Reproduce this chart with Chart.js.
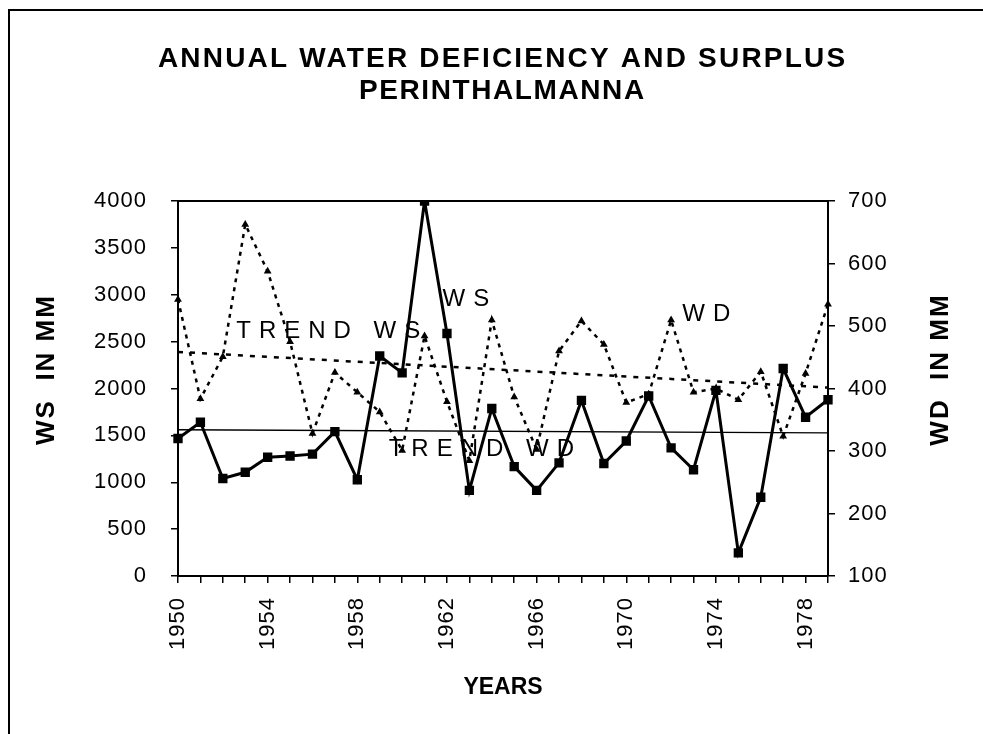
<!DOCTYPE html>
<html>
<head>
<meta charset="utf-8">
<title>Annual water deficiency and surplus - Perinthalmanna</title>
<script src="https://cdn.jsdelivr.net/npm/chart.js@4.4.1/dist/chart.umd.min.js"></script>
<style>
    html, body { margin: 0; padding: 0; background: #fff; }
    canvas { display: block; }
</style>
</head>
<body>
<canvas id="waterChart" width="983" height="734"></canvas>
<script>
// values
const years = [1950, 1951, 1952, 1953, 1954, 1955, 1956, 1957, 1958, 1959,
               1960, 1961, 1962, 1963, 1964, 1965, 1966, 1967, 1968, 1969,
               1970, 1971, 1972, 1973, 1974, 1975, 1976, 1977, 1978, 1979];
// water surplus, mm (left axis)
const wsValues = [2950, 1890, 2340, 3750, 3250, 2500, 1520, 2170, 1960, 1750,
                  1340, 2560, 1860, 1230, 2730, 1910, 1350, 2400, 2720, 2470,
                  1850, 1940, 2730, 1960, 2000, 1880, 2180, 1490, 2160, 2900];
// water deficiency, mm (right axis)
const wdValues = [320, 346, 256, 266, 290, 292, 295, 331, 254, 452,
                  425, 700, 488, 237, 368, 275, 237, 281, 381, 280,
                  316, 388, 305, 270, 397, 137, 226, 432, 354, 382];
// linear trend lines, first and last year
const trendWs = [2390, 2010];
const trendWd = [334, 329];
const labelledYears = [1950, 1954, 1958, 1962, 1966, 1970, 1974, 1978];
const titleLines = ['ANNUAL WATER DEFICIENCY AND SURPLUS', 'PERINTHALMANNA'];
const curveLabels = ['TREND WS', 'WS', 'TREND WD', 'WD'];

const FONT = '"Liberation Sans", Arial, sans-serif';
Chart.defaults.font.family = FONT;
Chart.defaults.color = '#000';

function endsOnly(ends) {
    return years.map((y, i) => i === 0 ? ends[0] : (i === years.length - 1 ? ends[1] : null));
}

function spacedText(ctx, text, x, y, font, spacing, align, angle) {
    ctx.save();
    ctx.font = font;
    ctx.letterSpacing = spacing + 'px';
    ctx.fillStyle = '#000';
    ctx.textBaseline = 'middle';
    ctx.translate(x, y);
    if (angle) ctx.rotate(angle);
    let w = ctx.measureText(text).width;
    let dx = 0;
    if (align === 'center') dx = -(w - spacing) / 2;
    ctx.textAlign = 'left';
    ctx.fillText(text, dx, 0);
    ctx.restore();
}

const sheetDecor = {
    id: 'sheetDecor',
    beforeUpdate(chart) { chart.ctx.letterSpacing = '1px'; },
    beforeDraw(chart) { chart.ctx.letterSpacing = '1px'; },
    afterDraw(chart) {
        const ctx = chart.ctx;
        const a = chart.chartArea;
        const x = chart.scales.x, y = chart.scales.y;

        // scanned page frame (left and top edge only)
        ctx.save();
        ctx.strokeStyle = '#000';
        ctx.lineWidth = 2;
        ctx.beginPath();
        ctx.moveTo(9, chart.height);
        ctx.lineTo(9, 10);
        ctx.lineTo(chart.width, 10);
        ctx.stroke();
        // top edge of plot area
        ctx.beginPath();
        ctx.moveTo(a.left, a.top);
        ctx.lineTo(a.right, a.top);
        ctx.stroke();
        ctx.restore();

        const cx = chart.width / 2 + 10;
        spacedText(ctx, titleLines[0], cx, 59, 'bold 28px ' + FONT, 2.2, 'center');
        spacedText(ctx, titleLines[1], cx, 91, 'bold 28px ' + FONT, 1.6, 'center');

        const midY = (a.top + a.bottom) / 2 - 18;
        spacedText(ctx, 'WS  IN MM', a.left - 131, midY, 'bold 26px ' + FONT, 2, 'center', -Math.PI / 2);
        spacedText(ctx, 'WD  IN MM', a.right + 113, midY, 'bold 26px ' + FONT, 2, 'center', -Math.PI / 2);
        spacedText(ctx, 'YEARS', (a.left + a.right) / 2, a.bottom + 112, 'bold 23px ' + FONT, 0, 'center');

        // labels sitting on the curves, placed in data units
        const spots = [[2.6, 2606], [11.8, 2952], [9.4, 1351], [22.5, 2793]];
        curveLabels.forEach((t, i) => {
            spacedText(ctx, t, x.getPixelForValue(spots[i][0]), y.getPixelForValue(spots[i][1]),
                '24px ' + FONT, 8, 'left');
        });
    }
};

const axisGrid = {
    drawOnChartArea: false,
    drawTicks: true,
    tickLength: 7,
    color: '#000',
    lineWidth: 1.5
};

const ctx = document.getElementById('waterChart').getContext('2d');
new Chart(ctx, {
    type: 'line',
    data: {
        labels: years.map(String),
        datasets: [{
            label: 'WD',
            data: wdValues,
            yAxisID: 'y1',
            borderColor: '#000',
            backgroundColor: '#000',
            borderWidth: 3,
            pointStyle: 'rect',
            pointRadius: 6.6,
            pointBorderWidth: 0,
            tension: 0
        }, {
            label: 'WS',
            data: wsValues,
            yAxisID: 'y',
            borderColor: '#000',
            backgroundColor: '#000',
            borderWidth: 2.5,
            borderDash: [4, 5],
            pointStyle: 'triangle',
            pointRadius: 4.5,
            pointBorderWidth: 0,
            tension: 0
        }, {
            label: 'TREND WS',
            data: endsOnly(trendWs),
            yAxisID: 'y',
            borderColor: '#000',
            borderWidth: 2.5,
            borderDash: [5, 7],
            pointRadius: 0,
            spanGaps: true
        }, {
            label: 'TREND WD',
            data: endsOnly(trendWd),
            yAxisID: 'y1',
            borderColor: '#000',
            borderWidth: 1.3,
            pointRadius: 0,
            spanGaps: true
        }]
    },
    options: {
        responsive: false,
        animation: false,
        devicePixelRatio: 1,
        layout: { padding: { top: 201, left: 0, right: 0, bottom: 0 } },
        plugins: {
            legend: { display: false },
            title: { display: false },
            tooltip: { enabled: false }
        },
        scales: {
            x: {
                offset: false,
                grid: axisGrid,
                border: { color: '#000', width: 2 },
                ticks: {
                    autoSkip: false,
                    minRotation: 90,
                    maxRotation: 90,
                    padding: 14,
                    font: { size: 22 },
                    callback: (v, i) => labelledYears.includes(years[i]) ? String(years[i]) : ''
                },
                afterFit: s => { s.height = 158; }
            },
            y: {
                position: 'left',
                min: 0,
                max: 4000,
                grid: axisGrid,
                border: { color: '#000', width: 2 },
                ticks: { stepSize: 500, padding: 24, font: { size: 22 }, callback: v => String(v) },
                afterFit: s => { s.width = 178; }
            },
            y1: {
                position: 'right',
                min: 100,
                max: 700,
                grid: axisGrid,
                border: { color: '#000', width: 2 },
                ticks: { stepSize: 100, padding: 13, font: { size: 22 }, callback: v => String(v) },
                afterFit: s => { s.width = 155; }
            }
        }
    },
    plugins: [sheetDecor]
});
</script>
</body>
</html>
